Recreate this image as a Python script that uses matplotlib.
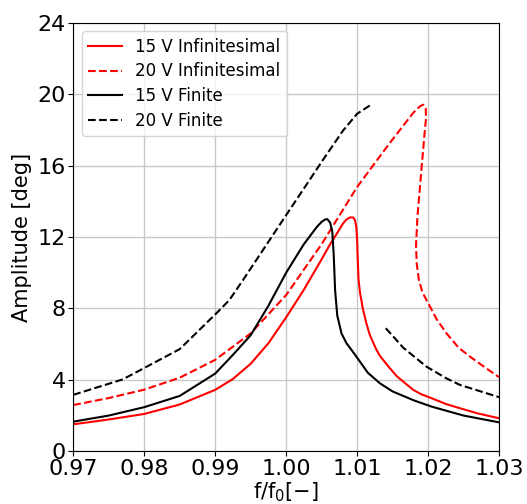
import numpy as np
import matplotlib
matplotlib.use("Agg")
import matplotlib.pyplot as plt

# 15 V Infinitesimal
x_15_inf = [0.970, 0.975, 0.980, 0.985, 0.990, 0.9925, 0.995, 0.9975, 1.000, 1.0025,
            1.005, 1.0062, 1.007, 1.008, 1.0085, 1.0090, 1.00944, 1.0097, 1.0099, 1.0100, 1.0101,
            1.0102, 1.0104, 1.0108, 1.0113, 1.0118, 1.0127, 1.0132, 1.0145, 1.0156,
            1.0168, 1.0179, 1.0190, 1.0205, 1.0225, 1.0245, 1.027, 1.030]
y_15_inf = [1.51, 1.78, 2.09, 2.62, 3.44, 4.05, 4.9, 6.05, 7.5, 9.05,
            10.75, 11.6, 12.1, 12.75, 12.98, 13.1, 13.09, 12.95, 12.5, 11.8, 10.6,
            9.6, 8.9, 8.0, 7.17, 6.5, 5.7, 5.35, 4.7, 4.2,
            3.8, 3.44, 3.2, 2.97, 2.65, 2.41, 2.12, 1.85]

# 20 V Infinitesimal
x_20_inf = [0.970, 0.975, 0.980, 0.985, 0.990, 0.995, 1.000, 1.005, 1.010, 1.0146,
            1.0179, 1.0188, 1.01931, 1.01967, 1.0197, 1.0195, 1.0191, 1.0185, 1.0183,
            1.0184, 1.0187, 1.0192, 1.0200, 1.0212, 1.0226, 1.0243, 1.0259, 1.028, 1.030]
y_20_inf = [2.59, 2.98, 3.45, 4.12, 5.12, 6.6, 8.75, 11.6, 14.8, 17.26,
            18.95, 19.3, 19.41, 19.2, 18.6, 17.8, 15.95, 13.15, 11.5,
            10.5, 9.6, 8.9, 8.3, 7.4, 6.6, 5.8, 5.3, 4.7, 4.15]

# 15 V Finite
x_15_fin = [0.970, 0.975, 0.980, 0.985, 0.990, 0.9925, 0.995, 0.9975, 1.000,
            1.0025, 1.0043, 1.005, 1.0055, 1.0058, 1.0062, 1.0065, 1.0067, 1.0069, 1.0072,
            1.0078, 1.0085, 1.0092, 1.0104, 1.0115, 1.0132, 1.0150, 1.0180, 1.0205, 1.025, 1.030]
y_15_fin = [1.66, 2.0, 2.47, 3.1, 4.35, 5.4, 6.5, 8.15, 10.0,
            11.6, 12.55, 12.85, 12.98, 13.0, 12.8, 12.3, 11.0, 9.0, 7.6,
            6.6, 6.05, 5.68, 5.02, 4.4, 3.81, 3.35, 2.85, 2.5, 2.0, 1.62]

# 20 V Finite (two branches separated by a gap)
x_20_fin = [0.970, 0.9770, 0.9850, 0.9902, 0.9920, 0.99394, 0.99912, 1.00521, 1.0080,
            1.0100, 1.01178, np.nan,
            1.01404, 1.0165, 1.01977, 1.0225, 1.02446, 1.030]
y_20_fin = [3.16, 4.03, 5.72, 7.74, 8.47, 9.6, 12.7, 16.33, 17.95,
            18.9, 19.36, np.nan,
            6.89, 5.8, 4.74, 4.1, 3.72, 3.03]

x_ticks = [0.97, 0.98, 0.99, 1.00, 1.01, 1.02, 1.03]
x_tick_labels = ["0.97", "0.98", "0.99", "1.00", "1.01", "1.02", "1.03"]
y_ticks = [0, 4, 8, 12, 16, 20, 24]

fig = plt.figure(figsize=(5.27, 5.04), dpi=100)
ax = fig.add_axes([0.139, 0.1046, 0.808, 0.8504])

ax.plot(x_15_inf, y_15_inf, color="red", lw=1.5, label="15 V Infinitesimal")
ax.plot(x_20_inf, y_20_inf, color="red", lw=1.5, ls="--", label="20 V Infinitesimal")
ax.plot(x_15_fin, y_15_fin, color="black", lw=1.5, label="15 V Finite")
ax.plot(x_20_fin, y_20_fin, color="black", lw=1.5, ls="--", label="20 V Finite")

ax.set_xlim(0.97, 1.03)
ax.set_ylim(0, 24)
ax.set_xticks(x_ticks)
ax.set_xticklabels(x_tick_labels)
ax.set_yticks(y_ticks)
ax.tick_params(labelsize=16, pad=2)
ax.grid(True, color="#c8c8c8", lw=1.0)
ax.set_axisbelow(True)
ax.set_xlabel(r"f/f$_0$[$-$]", fontsize=15, labelpad=1)
ax.set_ylabel("Amplitude [deg]", fontsize=15)
ax.legend(loc="upper left", fontsize=12, labelspacing=0.4)

fig.savefig("out.png", dpi=100)
